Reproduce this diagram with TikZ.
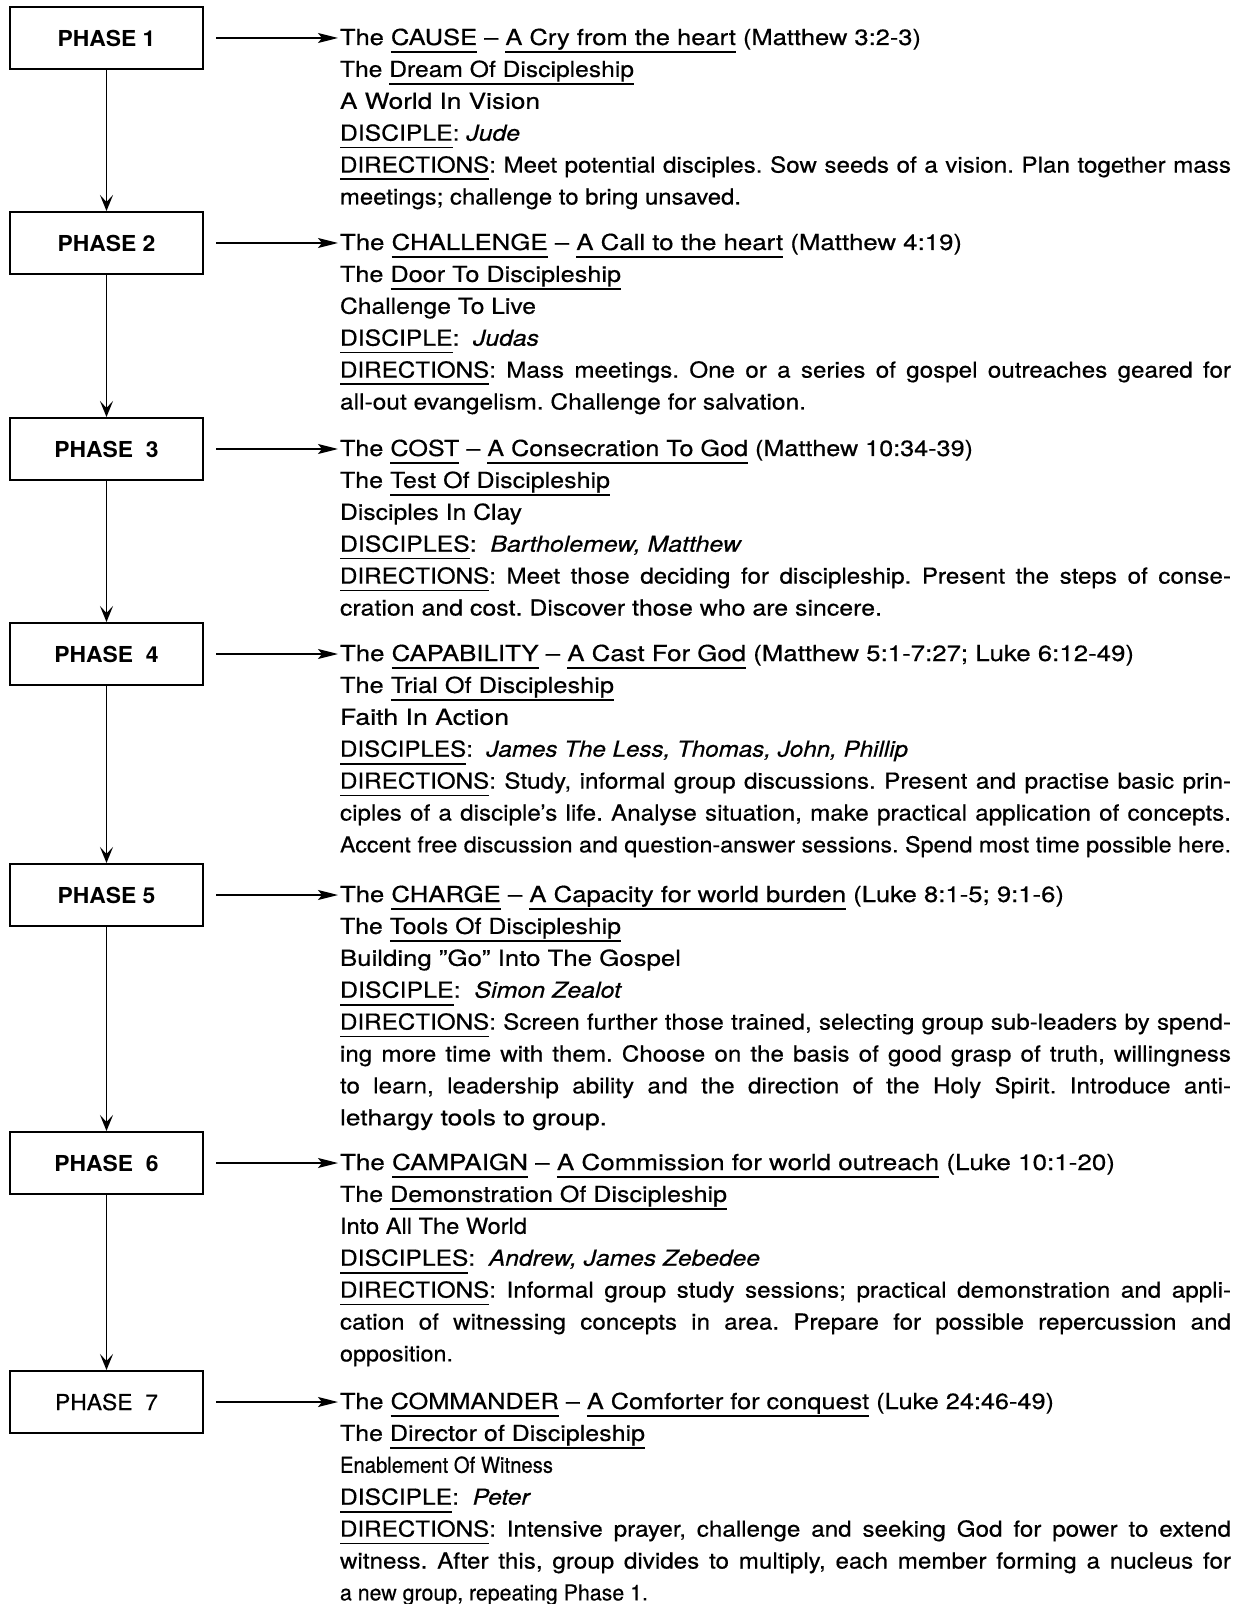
\documentclass[tikz,border=0pt]{standalone}
\usepackage{fontspec}
\setmainfont{TeX Gyre Heros}[FakeStretch=1.1,UprightFeatures={FakeBold=0.5},ItalicFeatures={FakeBold=0.5}]
\newfontfamily\lblfont{TeX Gyre Heros}[FakeStretch=1.04,UprightFeatures={FakeBold=0.5}]
\usepackage{graphicx}
\usetikzlibrary{arrows.meta}
\frenchspacing

\newbox\flbox
\newlength\fltarget
\newlength\jlw \setlength\jlw{445.5pt}
% underline at a fixed depth below the baseline
\newcommand\myul[1]{{\setbox0\hbox{#1}\rlap{\smash{\rule[-3.9pt]{\wd0}{0.95pt}}}\box0}}
% ragged line, fitted to the reference end position (in px)
\newcommand\rl[2]{\setlength\fltarget{\dimexpr(#1pt-340pt)/2\relax}%
  \setbox\flbox\hbox{#2}%
  \hbox{\resizebox{\fltarget}{\height}{\box\flbox}}}
% justified line
\newcommand\jl[1]{\setbox\flbox\hbox{#1}%
  \ifdim\wd\flbox>\jlw
    \hbox{\resizebox{\jlw}{\height}{\box\flbox}}%
  \else
    \hbox to\jlw{\unhbox\flbox}%
  \fi}
\newcommand\blk[1]{\vtop{\frenchspacing\baselineskip=15.95pt\lineskiplimit=-100pt\lineskip=0pt #1}}

\tikzset{
  phasebox/.style={draw, line width=1pt, minimum width=96.5pt, minimum height=31pt,
    inner sep=0pt, font=\lblfont\fontsize{11}{13}\selectfont\bfseries},
  phaseboxlight/.style={phasebox, font=\lblfont\fontsize{11}{13}\selectfont},
  txtblock/.style={anchor=base west, inner sep=0pt, outer sep=0pt,
    font=\fontsize{11}{15.95}\selectfont},
  harrow/.style={line width=0.8pt, -{Stealth[length=10pt,width=5pt,inset=2pt]}},
  varrow/.style={line width=0.9pt, -{Stealth[length=8pt,width=6.5pt,inset=3.5pt]}}
}

\begin{document}
\begin{tikzpicture}[x=0.5pt,y=-0.5pt]
\fill[white] (0,0) rectangle (1245,1604);
\useasboundingbox (0,0) rectangle (1245,1604);

% phase boxes
\node[phasebox] (p1) at (106.5,38) {PHASE 1};
\node[phasebox] (p2) at (106.5,243) {PHASE 2};
\node[phasebox] (p3) at (106.5,449) {PHASE\ \ 3};
\node[phasebox] (p4) at (106.5,654) {PHASE\ \ 4};
\node[phasebox] (p5) at (106.5,895) {PHASE 5};
\node[phasebox] (p6) at (106.5,1163) {PHASE\ \ 6};
\node[phaseboxlight] (p7) at (106.5,1402) {PHASE\ \ 7};

% text blocks
\node[txtblock] (t1) at (340,45) {\blk{%
\rl{921}{The \myul{CAUSE} \textendash{} \myul{A Cry from the heart} (Matthew 3:2-3)}
\rl{634}{The \myul{Dream Of Discipleship}}
\rl{540}{A World In Vision}
\rl{520}{\myul{DISCIPLE}: \textit{Jude}}
\jl{\myul{DIRECTIONS}: Meet potential disciples. Sow seeds of a vision. Plan together mass}
\rl{741}{meetings; challenge to bring unsaved.}
}};

\node[txtblock] (t2) at (340,250) {\blk{%
\rl{962}{The \myul{CHALLENGE} \textendash{} \myul{A Call to the heart} (Matthew 4:19)}
\rl{621}{The \myul{Door To Discipleship}}
\rl{536}{Challenge To Live}
\rl{539}{\myul{DISCIPLE}:\ \ \textit{Judas}}
\jl{\myul{DIRECTIONS}: Mass meetings. One or a series of gospel outreaches geared for}
\rl{806}{all-out evangelism. Challenge for salvation.}
}};

\node[txtblock] (t3) at (340,456) {\blk{%
\rl{973}{The \myul{COST} \textendash{} \myul{A Consecration To God} (Matthew 10:34-39)}
\rl{610}{The \myul{Test Of Discipleship}}
\rl{522}{Disciples In Clay}
\rl{742}{\myul{DISCIPLES}:\ \ \textit{Bartholemew, Matthew}}
\jl{\myul{DIRECTIONS}: Meet those deciding for discipleship. Present the steps of conse-}
\rl{882}{cration and cost. Discover those who are sincere.}
}};

\node[txtblock] (t4) at (340,661) {\blk{%
\rl{1134}{The \myul{CAPABILITY} \textendash{} \myul{A Cast For God} (Matthew 5:1-7:27; Luke 6:12-49)}
\rl{614}{The \myul{Trial Of Discipleship}}
\rl{509}{Faith In Action}
\rl{908}{\myul{DISCIPLES}:\ \ \textit{James The Less, Thomas, John, Phillip}}
\jl{\myul{DIRECTIONS}: Study, informal group discussions. Present and practise basic prin-}
\jl{ciples of a disciple's life. Analyse situation, make practical application of concepts.}
\jl{Accent free discussion and question-answer sessions. Spend most time possible here.}
}};

\node[txtblock] (t5) at (340,902) {\blk{%
\rl{1064}{The \myul{CHARGE} \textendash{} \myul{A Capacity for world burden} (Luke 8:1-5; 9:1-6)}
\rl{621}{The \myul{Tools Of Discipleship}}
\rl{681}{Building ''Go'' Into The Gospel}
\rl{622}{\myul{DISCIPLE}:\ \ \textit{Simon Zealot}}
\jl{\myul{DIRECTIONS}: Screen further those trained, selecting group sub-leaders by spend-}
\jl{ing more time with them. Choose on the basis of good grasp of truth, willingness}
\jl{to learn, leadership ability and the direction of the Holy Spirit. Introduce anti-}
\rl{607}{lethargy tools to group.}
}};

\node[txtblock] (t6) at (340,1170) {\blk{%
\rl{1115}{The \myul{CAMPAIGN} \textendash{} \myul{A Commission for world outreach} (Luke 10:1-20)}
\rl{727}{The \myul{Demonstration Of Discipleship}}
\rl{527}{Into All The World}
\rl{760}{\myul{DISCIPLES}:\ \ \textit{Andrew, James Zebedee}}
\jl{\myul{DIRECTIONS}: Informal group study sessions; practical demonstration and appli-}
\jl{cation of witnessing concepts in area. Prepare for possible repercussion and}
\rl{453}{opposition.}
}};

\node[txtblock] (t7) at (340,1409) {\blk{%
\rl{1054}{The \myul{COMMANDER} \textendash{} \myul{A Comforter for conquest} (Luke 24:46-49)}
\rl{645}{The \myul{Director of Discipleship}}
\rl{553}{Enablement Of Witness}
\rl{531}{\myul{DISCIPLE}:\ \ \textit{Peter}}
\jl{\myul{DIRECTIONS}: Intensive prayer, challenge and seeking God for power to extend}
\jl{witness. After this, group divides to multiply, each member forming a nucleus for}
\rl{648}{a new group, repeating Phase 1.}
}};

% vertical connectors
\foreach \a/\b in {p1/p2,p2/p3,p3/p4,p4/p5,p5/p6,p6/p7}
  \draw[varrow] (\a.south) -- (\b.north);

% horizontal connectors
\foreach \i in {1,...,7}
  \draw[harrow] ([xshift=6pt]p\i.east) -- ([xshift=-1pt]p\i.east -| t\i.west);
\end{tikzpicture}
\end{document}
